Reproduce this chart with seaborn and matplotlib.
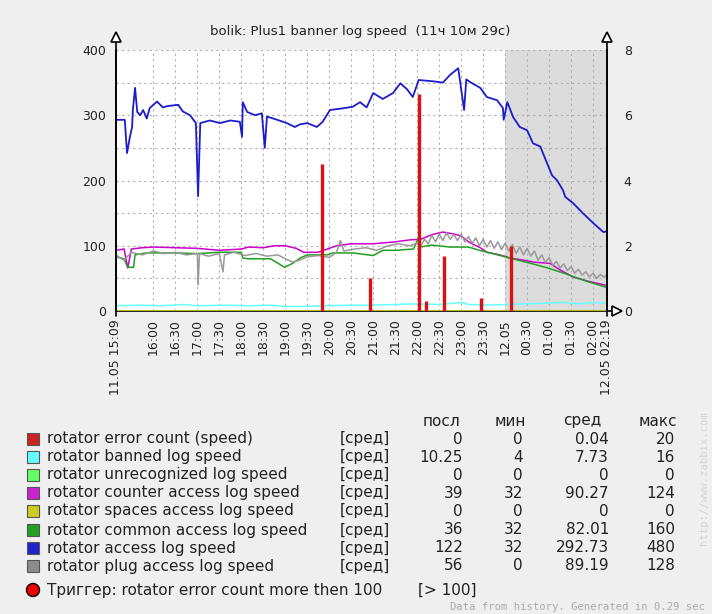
import pandas as pd
import seaborn as sns
import matplotlib.pyplot as plt
from matplotlib.patches import Rectangle, Ellipse

# times are HH:MM, 11.05 afternoon -> 12.05 night
blue_t = ["15:09", "15:21", "15:24", "15:28", "15:31", "15:32", "15:35", "15:38", "15:42", "15:46",
          "15:51", "15:55", "16:05", "16:13", "16:19", "16:34", "16:40", "16:50", "16:58", "17:01",
          "17:04", "17:17", "17:31", "17:45", "17:58", "18:01", "18:02", "18:08", "18:19", "18:28",
          "18:32", "18:35", "18:49", "19:02", "19:13", "19:20", "19:30", "19:43", "19:51", "20:01",
          "20:15", "20:32", "20:42", "20:51", "21:00", "21:13", "21:27", "21:37", "21:46", "21:54",
          "22:02", "22:22", "22:35", "22:45", "22:56", "23:04", "23:07", "23:12", "23:26", "23:35",
          "23:49", "23:57", "23:58", "00:03", "00:11", "00:20", "00:30", "00:38", "00:48", "00:57",
          "01:04", "01:11", "01:19", "01:22", "01:33", "01:46", "02:00", "02:14", "02:19"]
blue_v = [293, 293, 242, 267, 282, 308, 342, 305, 300, 308,
          295, 311, 321, 312, 314, 316, 306, 300, 288, 176,
          288, 292, 288, 292, 290, 267, 320, 305, 300, 303,
          250, 298, 293, 288, 282, 286, 288, 282, 290, 308,
          310, 313, 320, 312, 334, 325, 334, 349, 340, 328,
          354, 352, 350, 362, 372, 308, 355, 351, 342, 328,
          323, 311, 293, 320, 297, 282, 277, 257, 252, 227,
          208, 200, 185, 175, 165, 150, 135, 121, 122]

magenta_t = ["15:09", "15:20", "15:25", "15:30", "15:45", "16:00", "16:30", "17:00", "17:30", "18:00",
             "18:10", "18:30", "18:45", "19:00", "19:15", "19:25", "19:45", "20:10", "20:30", "21:00",
             "21:30", "21:50", "22:05", "22:20", "22:35", "22:50", "23:00", "23:10", "23:26", "23:35",
             "23:53", "00:07", "00:25", "00:38", "01:01", "01:15", "01:33", "01:52", "02:19"]
magenta_v = [93, 95, 66, 95, 97, 98, 97, 96, 93, 95,
             98, 97, 100, 100, 96, 90, 90, 100, 103, 103,
             106, 109, 110, 117, 121, 118, 115, 106, 97, 90,
             86, 81, 78, 75, 73, 63, 52, 46, 39]

green_t = ["15:09", "15:20", "15:25", "15:33", "15:35", "15:50", "16:30", "17:00", "17:30", "18:00",
           "18:02", "18:10", "18:40", "18:59", "19:10", "19:20", "19:30", "19:57", "20:05", "20:32",
           "21:00", "21:13", "21:30", "21:55", "22:02", "22:04", "22:20", "22:45", "23:10", "23:25",
           "23:50", "00:10", "00:35", "00:58", "01:20", "01:50", "02:19"]
green_v = [83, 80, 67, 67, 86, 89, 89, 88, 90, 90,
           81, 80, 80, 67, 73, 81, 86, 86, 89, 89,
           85, 93, 93, 95, 113, 98, 101, 98, 98, 93,
           86, 80, 73, 66, 58, 46, 36]

gray_t = ["15:09", "15:15", "15:20", "15:30", "15:45", "16:00", "16:15", "16:30", "16:45", "17:00",
          "17:01", "17:03", "17:15", "17:30", "17:35", "17:37", "17:50", "18:05", "18:20", "18:35",
          "18:50", "19:00", "19:10", "19:20", "19:30", "19:45", "20:00", "20:10", "20:15", "20:20",
          "20:35", "20:50", "21:05", "21:20", "21:35", "21:50", "22:00", "22:05", "22:10", "22:15",
          "22:20", "22:25", "22:30", "22:35", "22:40", "22:45", "22:50", "22:55", "23:00", "23:05",
          "23:10", "23:15", "23:20", "23:25", "23:30", "23:35", "23:40", "23:45", "23:50", "23:55",
          "00:00", "00:05", "00:10", "00:15", "00:20", "00:25", "00:30", "00:35", "00:40", "00:45",
          "00:50", "00:55", "01:00", "01:05", "01:10", "01:15", "01:20", "01:25", "01:30", "01:35",
          "01:40", "01:45", "01:50", "01:55", "02:00", "02:05", "02:10", "02:15", "02:19"]
gray_v = [86, 81, 78, 90, 86, 92, 88, 90, 86, 88,
          40, 88, 84, 88, 60, 86, 90, 85, 88, 84,
          86, 80, 75, 78, 83, 85, 82, 90, 108, 92,
          95, 97, 93, 100, 103, 100, 104, 100, 110, 103,
          116, 106, 118, 108, 120, 110, 117, 108, 118, 106,
          114, 104, 112, 100, 110, 98, 108, 96, 106, 94,
          104, 92, 102, 88, 98, 86, 96, 84, 92, 78,
          86, 74, 82, 70, 76, 66, 72, 62, 68, 58,
          64, 55, 60, 52, 58, 50, 56, 52, 56]

cyan_t = ["15:09", "15:40", "16:10", "16:40", "17:00", "17:40", "18:10", "18:40", "19:00", "19:30",
          "19:50", "20:30", "21:00", "21:30", "22:00", "22:30", "23:00", "23:10", "23:40", "00:00",
          "00:30", "01:00", "01:20", "01:40", "02:00", "02:19"]
cyan_v = [8, 9, 8, 10, 8, 9, 8, 9, 7, 7,
          8, 9, 9, 10, 11, 10, 13, 10, 9, 10,
          11, 12, 13, 11, 13, 12]

flat_t = ["15:09", "02:19"]
unrecognized_v = [0, 0]
spaces_v = [0, 0]

error_t = ["19:50", "20:55", "22:02", "22:12", "22:36", "23:27", "00:08"]
error_v = [4.5, 1.0, 6.65, 0.3, 1.7, 0.4, 2.0]

legend_names = ["rotator error count (speed)", "rotator banned log speed", "rotator unrecognized log speed",
                "rotator counter access log speed", "rotator spaces access log speed",
                "rotator common access log speed", "rotator access log speed", "rotator plug access log speed"]
legend_colors = ["#cc2222", "#66ffff", "#66ff66", "#cc22cc", "#cccc22", "#22a022", "#2222cc", "#8c8c8c"]
col_last = ["0", "10.25", "0", "39", "0", "36", "122", "56"]
col_min = ["0", "4", "0", "32", "0", "32", "32", "0"]
col_avg = ["0.04", "7.73", "0", "90.27", "0", "82.01", "292.73", "89.19"]
col_max = ["20", "16", "0", "124", "0", "160", "480", "128"]


def to_time(s):
    h, m = map(int, s.split(":"))
    return pd.Timestamp(2013, 5, 11 if h >= 12 else 12, h, m)


t0, t1, midnight = to_time("15:09"), to_time("02:19"), to_time("00:00")

sns.set_theme(style="white")
plt.rcParams["font.family"] = ["DejaVu Sans"]

W, H = 712, 614
fig = plt.figure(figsize=(W / 100, H / 100), dpi=100, facecolor="#efefef")
ax = fig.add_axes([116 / W, 1 - 311 / H, 491 / W, 261 / H])
ax.set_facecolor("white")

ax.axvspan(midnight, t1, color="#dcdcdc", lw=0, zorder=0.2)

series = [
    (flat_t, unrecognized_v, "#66ff66", 1.0),
    (cyan_t, cyan_v, "#66ffff", 1.1),
    (magenta_t, magenta_v, "#cc00cc", 1.1),
    (flat_t, spaces_v, "#c8c800", 2.0),
    (green_t, green_v, "#20a020", 1.1),
    (blue_t, blue_v, "#1c1ccc", 1.3),
    (gray_t, gray_v, "#999999", 1.1),
]
for tt, vv, col, lw in series:
    sns.lineplot(x=[to_time(s) for s in tt], y=vv, color=col, lw=lw,
                 ax=ax, legend=False, zorder=3)

ax.set_xlim(t0, t1)
ax.set_ylim(0, 400)
ax.set_yticks(range(0, 401, 100))
ax.set_yticks(range(50, 400, 100), minor=True)

ticks = [t0] + list(pd.date_range(to_time("16:00"), to_time("02:00"), freq="30min")) + [t1]
labels, colors = [], []
for i, tk in enumerate(ticks):
    if i == 0:
        labels.append("11.05 15:09"); colors.append("#a84040")
    elif i == len(ticks) - 1:
        labels.append("12.05 02:19"); colors.append("#a84040")
    elif tk.hour == 0 and tk.minute == 0:
        labels.append("12.05"); colors.append("#a84040")
    else:
        labels.append(tk.strftime("%H:%M"))
        colors.append("#a84040" if tk.minute == 0 else "#222222")
ax.set_xticks(ticks)
ax.set_xticklabels(labels, rotation=90, fontsize=8.7)
for lab, c in zip(ax.get_xticklabels(), colors):
    lab.set_color(c)

ax.grid(True, which="both", axis="y", color="#b0b0b0", ls=(0, (2, 3)), lw=0.8, zorder=0.5)
ax.grid(True, which="major", axis="x", color="#b0b0b0", ls=(0, (2, 3)), lw=0.8, zorder=0.5)
ax.set_axisbelow(True)
ax.tick_params(axis="both", which="both", length=0, pad=7, labelsize=9, labelcolor="#222222")
ax.tick_params(axis="x", pad=6)
for side in ["top", "right"]:
    ax.spines[side].set_visible(False)
for side in ["left", "bottom"]:
    ax.spines[side].set_color("black")
    ax.spines[side].set_linewidth(1.2)

ax2 = ax.twinx()
ax2.vlines([to_time(s) for s in error_t], 0, error_v, color="#dd1111", lw=2.4, zorder=4)
ax2.set_ylim(0, 8)
ax2.set_yticks(range(0, 9, 2))
ax2.tick_params(axis="y", length=0, pad=12, labelsize=9, labelcolor="#222222")
ax2.grid(False)
for side in ["top", "left", "bottom"]:
    ax2.spines[side].set_visible(False)
ax2.spines["right"].set_color("black")
ax2.spines["right"].set_linewidth(1.2)

# axis arrows
for xa in (0, 1):
    ax.plot([xa, xa], [-0.02, 1.05], color="black", lw=1.2, transform=ax.transAxes, clip_on=False, zorder=5)
    ax.plot(xa, 1.05, marker="^", ms=7, mfc="white", mec="black", mew=1.2,
            transform=ax.transAxes, clip_on=False, zorder=6)
ax.plot([1, 1.02], [0, 0], color="black", lw=1.2, transform=ax.transAxes, clip_on=False, zorder=5)
ax.plot(1.02, 0, marker=">", ms=7, mfc="white", mec="black", mew=1.2,
        transform=ax.transAxes, clip_on=False, zorder=6)

fig.text(360 / W, 1 - 31 / H, "bolik: Plus1 banner log speed  (11ч 10м 29с)",
         ha="center", va="center", fontsize=9.5, color="#222222")


def fx(x):
    return x / W


def fy(y):
    return 1 - y / H


fs = 11
for label, x in [("посл", 442), ("мин", 510), ("сред", 582), ("макс", 658)]:
    fig.text(fx(x), fy(421), label, ha="center", va="center", fontsize=fs, color="#222222")

row_y = [439, 457, 475, 493, 511, 530, 548, 566]
for i, y in enumerate(row_y):
    fig.add_artist(Rectangle((fx(27), fy(y + 6)), 12 / W, 12 / H, transform=fig.transFigure,
                             facecolor=legend_colors[i], edgecolor="#555555", lw=0.8))
    fig.text(fx(47), fy(y), legend_names[i], ha="left", va="center", fontsize=fs, color="#222222")
    fig.text(fx(340), fy(y), "[сред]", ha="left", va="center", fontsize=fs, color="#222222")
    fig.text(fx(463), fy(y), col_last[i], ha="right", va="center", fontsize=fs, color="#222222")
    fig.text(fx(523), fy(y), col_min[i], ha="right", va="center", fontsize=fs, color="#222222")
    fig.text(fx(609), fy(y), col_avg[i], ha="right", va="center", fontsize=fs, color="#222222")
    fig.text(fx(675), fy(y), col_max[i], ha="right", va="center", fontsize=fs, color="#222222")

fig.add_artist(Ellipse((fx(33), fy(590)), 13 / W, 13 / H, transform=fig.transFigure,
                       facecolor="#ee0000", edgecolor="black", lw=1))
fig.text(fx(47), fy(590), "Триггер: rotator error count more then 100", ha="left", va="center",
         fontsize=fs, color="#222222")
fig.text(fx(418), fy(590), "[> 100]", ha="left", va="center", fontsize=fs, color="#222222")

fig.text(fx(705), fy(607), "Data from history. Generated in 0.29 sec", ha="right", va="center",
         fontsize=7.6, family="DejaVu Sans Mono", color="#aaaaaa")
fig.text(fx(704), fy(478), "http://www.zabbix.com", ha="center", va="center", rotation=90,
         fontsize=7.6, family="DejaVu Sans Mono", color="#d4d4d4")

fig.savefig("out.png", dpi=100, facecolor=fig.get_facecolor())
